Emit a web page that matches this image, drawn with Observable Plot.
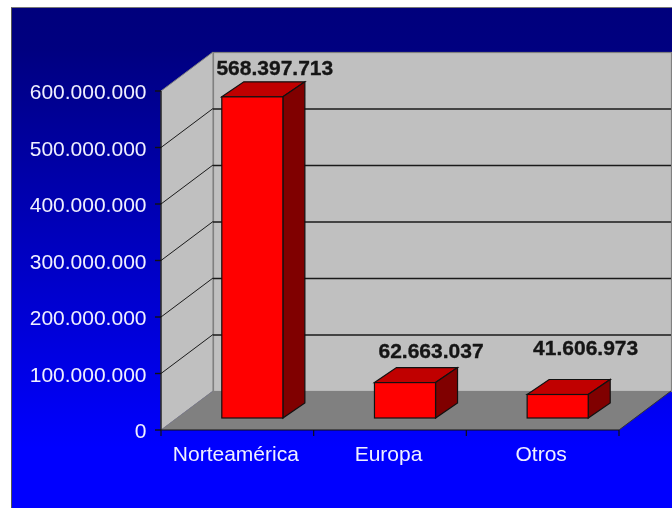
<!DOCTYPE html>
<html>
<head>
<meta charset="utf-8">
<script src="https://cdn.jsdelivr.net/npm/d3@7"></script>
<script src="https://cdn.jsdelivr.net/npm/@observablehq/plot@0.6"></script>
<style>
  html, body { margin: 0; padding: 0; background: #fff; width: 672px; height: 508px; overflow: hidden; }
  #panel { position: absolute; left: 11px; top: 7px; width: 661px; height: 501px; box-sizing: border-box;
    border-left: 1.5px solid #555; border-top: 1.5px solid #777;
    background: linear-gradient(to bottom, #00007c 0%, #000080 8%, #0000ff 88%, #0000ff 100%); }
  #chart { position: absolute; left: 0; top: 0; filter: blur(0.55px); }
</style>
</head>
<body>
<div id="panel"></div>
<div id="chart"></div>
<script>
const categories = ["Norteamérica", "Europa", "Otros"];
const values = [568397713, 62663037, 41606973];
const yTicks = [0, 100000000, 200000000, 300000000, 400000000, 500000000, 600000000];
const gridTicks = [100000000, 200000000, 300000000, 400000000, 500000000];

const rows = categories.map((category, i) => ({category, value: values[i]}));
const fmt = d3.formatLocale({decimal: ",", thousands: ".", grouping: [3], currency: ["", ""]}).format(",");

// 3-D projection offsets, in pixels
const DEPTH = [52, -39];      // chart depth
const BAR_SHIFT = [15, -12];  // bar position inside the depth
const BAR_DEPTH = [22, -15];  // bar thickness
const LABEL_OFFSET = [[37, -34], [40.5, -37.5], [42.5, -51.5]];

const FONT = "'Liberation Sans', Arial, sans-serif";

// a custom mark: draws polygons / lines computed from the chart's scales
function shapes(build, attrs) {
  return (index, scales, values, dimensions) => {
    const g = d3.create("svg:g");
    for (const pts of build(scales)) {
      const p = g.append("path").attr("d", "M" + pts.map(q => q.join(",")).join("L") + (attrs.fill !== "none" ? "Z" : ""));
      for (const k in attrs) p.attr(k, attrs[k]);
    }
    return g.node();
  };
}
const xEnds = s => [s.x(categories[0]) - (s.x.step() - s.x.bandwidth()) / 2,
                    s.x(categories[2]) + s.x.bandwidth() + (s.x.step() - s.x.bandwidth()) / 2];
const barBox = (s, r) => {
  const x0 = s.x(r.category) + BAR_SHIFT[0], x1 = x0 + s.x.bandwidth();
  const yt = s.y(r.value) + BAR_SHIFT[1], yb = s.y(0) + BAR_SHIFT[1];
  return {x0, x1, yt, yb};
};

const chart = Plot.plot({
  width: 672,
  height: 508,
  marginLeft: 161,
  marginRight: 53,
  marginTop: 91,
  marginBottom: 78,
  style: {background: "transparent", fontFamily: FONT, overflow: "visible"},
  x: {type: "band", domain: categories, range: [161, 619], paddingInner: 0.6, paddingOuter: 0.3, align: 0.5, round: false, axis: null},
  y: {domain: [0, 600000000], range: [430, 91], axis: null},
  marks: [
    // side wall
    shapes(s => { const [x0] = xEnds(s); return [[
      [x0, s.y(0)], [x0, s.y(600000000)],
      [x0 + DEPTH[0], s.y(600000000) + DEPTH[1]], [x0 + DEPTH[0], s.y(0) + DEPTH[1]]
    ]]; }, {fill: "#c0c0c0", stroke: "#808080", "stroke-width": 1}),
    // back wall
    Plot.frame({fill: "#c0c0c0", stroke: "#808080", strokeWidth: 1.2, dx: DEPTH[0], dy: DEPTH[1]}),
    // floor
    shapes(s => { const [x0, x1] = xEnds(s); return [[
      [x0, s.y(0)], [x0 + DEPTH[0], s.y(0) + DEPTH[1]],
      [x1 + DEPTH[0], s.y(0) + DEPTH[1]], [x1, s.y(0)]
    ]]; }, {fill: "#808080", stroke: "none"}),
    // gridlines on back wall and side wall
    Plot.ruleY(gridTicks, {stroke: "#1a1a1a", strokeWidth: 1.3, dx: DEPTH[0], dy: DEPTH[1]}),
    shapes(s => { const [x0] = xEnds(s); return gridTicks.map(t => [
      [x0, s.y(t)], [x0 + DEPTH[0], s.y(t) + DEPTH[1]]
    ]); }, {fill: "none", stroke: "#1a1a1a", "stroke-width": 1}),
    // front edge of the floor
    shapes(s => { const [x0, x1] = xEnds(s); return [
      [[x1, s.y(0)], [x1 + DEPTH[0], s.y(0) + DEPTH[1]]]
    ]; }, {fill: "none", stroke: "#333", "stroke-width": 1}),
    // axis lines
    shapes(s => { const [x0, x1] = xEnds(s); return [
      [[x0, s.y(600000000)], [x0, s.y(0)], [x1, s.y(0)]]
    ]; }, {fill: "none", stroke: "#111", "stroke-width": 1.2}),
    // y ticks
    shapes(s => { const [x0] = xEnds(s); return yTicks.map(t => [
      [x0 - 6, s.y(t)], [x0, s.y(t)]
    ]); }, {fill: "none", stroke: "#111", "stroke-width": 1.4}),
    // x ticks on the category boundaries
    shapes(s => { const [x0] = xEnds(s); return [0, 1, 2, 3].map(i => [
      [x0 + i * s.x.step(), s.y(0)], [x0 + i * s.x.step(), s.y(0) + 6]
    ]); }, {fill: "none", stroke: "#111", "stroke-width": 1.2}),
    Plot.axisY(yTicks, {
      anchor: "left", tickSize: 0, tickPadding: 15, dy: 1,
      tickFormat: fmt, fontSize: 21, fill: "#f0f0ff", label: null
    }),
    Plot.axisX(categories, {
      anchor: "bottom", tickSize: 0, tickPadding: 16, fontSize: 21, fill: "#f0f0ff", label: null, dx: -2
    }),
    // bars: top and side faces, then the front face
    shapes(s => rows.map(r => { const b = barBox(s, r); return [
      [b.x0, b.yt], [b.x0 + BAR_DEPTH[0], b.yt + BAR_DEPTH[1]],
      [b.x1 + BAR_DEPTH[0], b.yt + BAR_DEPTH[1]], [b.x1, b.yt]
    ]; }), {fill: "#c00000", stroke: "#111", "stroke-width": 1.2}),
    shapes(s => rows.map(r => { const b = barBox(s, r); return [
      [b.x1, b.yt], [b.x1 + BAR_DEPTH[0], b.yt + BAR_DEPTH[1]],
      [b.x1 + BAR_DEPTH[0], b.yb + BAR_DEPTH[1]], [b.x1, b.yb]
    ]; }), {fill: "#800000", stroke: "#111", "stroke-width": 1.2}),
    Plot.barY(rows, {x: "category", y: "value", fill: "#ff0000", stroke: "#111", strokeWidth: 1.2, dx: BAR_SHIFT[0], dy: BAR_SHIFT[1]}),
    // value labels
    ...rows.map((r, i) => Plot.text([r], {
      x: "category", y: "value", text: d => fmt(d.value),
      dx: LABEL_OFFSET[i][0], dy: LABEL_OFFSET[i][1], lineAnchor: "bottom",
      fontSize: 21, fontWeight: "bold", fill: "#151515", stroke: "#151515", strokeWidth: 0.35
    }))
  ]
});
document.getElementById("chart").append(chart);
</script>
</body>
</html>
